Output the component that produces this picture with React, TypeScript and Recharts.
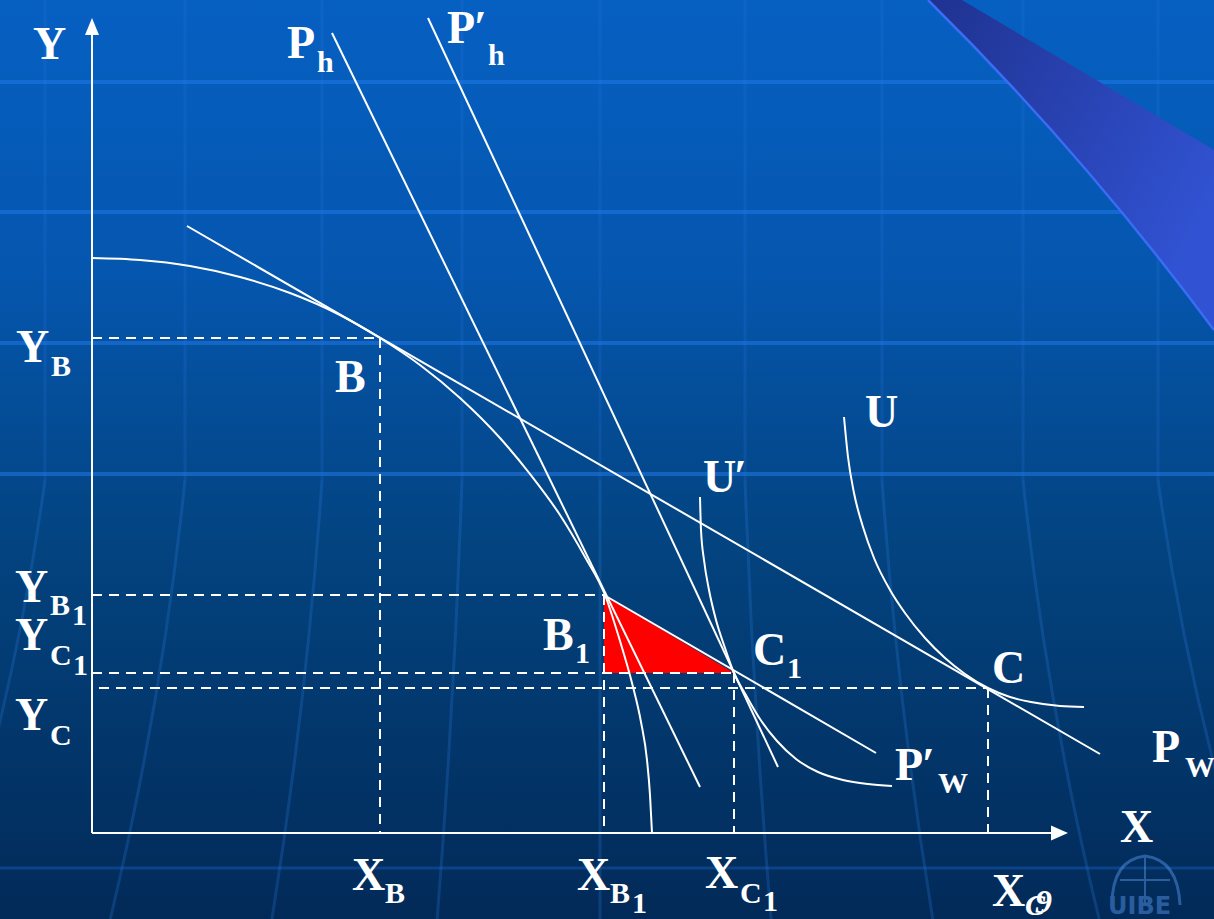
import React from 'react';
import { ComposedChart, Line, Area, Scatter, XAxis, YAxis, ReferenceDot } from 'recharts';

// Units: x = distance right of the origin, y = height above the X axis (schematic diagram units)
const ppfX = [0, 48, 98, 148, 198, 248, 288, 328, 368, 408, 438, 468, 493, 513, 528, 540, 549, 555, 558, 560];
const ppfY = [575, 573, 567, 556, 540, 518, 495, 468, 435, 395, 359, 318, 276, 238, 192, 150, 111, 73, 38, 0];

const uX = [752, 756, 762, 771, 782, 798, 813, 833, 853, 873, 896, 918, 939, 968, 992];
const uY = [416, 376, 340, 306, 275, 243, 220, 195, 175, 159, 145, 136, 131, 127, 126];

const u2X = [608, 609, 612, 617, 624, 633, 642, 655, 668, 685, 704, 726, 751, 776, 800];
const u2Y = [336, 303, 273, 243, 213, 185, 160, 136, 114, 92, 74, 61, 53, 49, 47];

// key points
const pB = { x: 288, y: 495 };
const pB1 = { x: 512, y: 238 };
const pC1 = { x: 642, y: 160 };
const pC = { x: 896, y: 145 };
const yCStart = 7;

// price lines (end points)
const pwLine = [{ x: 95, y: 607 }, { x: 1008, y: 79 }];
const pw2Line = [{ x: 512, y: 238 }, { x: 784, y: 80 }];
const phLine = [{ x: 240, y: 800 }, { x: 608, y: 46 }];
const ph2Line = [{ x: 336, y: 815 }, { x: 686, y: 66 }];

// axes
const xAxisEnd = 976;
const yAxisEnd = 815;

const zip = (xs: number[], ys: number[]) => xs.map((x, i) => ({ x, y: ys[i] }));
const ppf = zip(ppfX, ppfY);
const uCurve = zip(uX, uY);
const u2Curve = zip(u2X, u2Y);

const dashed = [
  [{ x: 0, y: pB.y }, { x: pB.x, y: pB.y }],
  [{ x: pB.x, y: pB.y }, { x: pB.x, y: 0 }],
  [{ x: 0, y: pB1.y }, { x: pB1.x, y: pB1.y }],
  [{ x: pB1.x, y: pB1.y }, { x: pB1.x, y: 0 }],
  [{ x: 0, y: pC1.y }, { x: pC1.x, y: pC1.y }],
  [{ x: pC1.x, y: pC1.y }, { x: pC1.x, y: 0 }],
  [{ x: yCStart, y: pC.y }, { x: pC.x, y: pC.y }],
  [{ x: pC.x, y: pC.y }, { x: pC.x, y: 0 }],
];

const triangle = [
  { x: pB1.x, y: [pC1.y, pB1.y] },
  { x: pC1.x, y: [pC1.y, pC1.y] },
];

type Part = [string, number, number, number, boolean?];
const M = 46;
const S = 30;
const labels: { x: number; y: number; parts: Part[] }[] = [
  { x: -59, y: 774, parts: [['Y', 0, 0, M]] },
  { x: 1028, y: -9, parts: [['X', 0, 0, M]] },
  { x: -76, y: 471, parts: [['Y', 0, 0, M], ['B', 35, 14, S]] },
  { x: 243, y: 441, parts: [['B', 0, 0, M]] },
  { x: -77, y: 231, parts: [['Y', 0, 0, M], ['B', 35, 13, S], ['1', 57, 23, S]] },
  { x: -77, y: 183, parts: [['Y', 0, 0, M], ['C', 35, 15, S], ['1', 58, 25, S]] },
  { x: -77, y: 103, parts: [['Y', 0, 0, M], ['C', 35, 15, S]] },
  { x: 451, y: 183, parts: [['B', 0, 0, M], ['1', 32, 13, S]] },
  { x: 661, y: 168, parts: [['C', 0, 0, M], ['1', 34, 13, S]] },
  { x: 900, y: 150, parts: [['C', 0, 0, M]] },
  { x: 773, y: 406, parts: [['U', 0, 0, M]] },
  { x: 611, y: 341, parts: [['U', 0, 0, M], ['\u2032', 31, 0, M]] },
  { x: 195, y: 775, parts: [['P', 0, 0, M], ['h', 30, 14, S]] },
  { x: 355, y: 790, parts: [['P', 0, 0, M], ['\u2032', 27, 0, M], ['h', 41, 22, S]] },
  { x: 803, y: 53, parts: [['P', 0, 0, M], ['\u2032', 27, 0, M], ['W', 43, 13, S]] },
  { x: 1060, y: 71, parts: [['P', 0, 0, M], ['W', 33, 15, S]] },
  { x: 260, y: -57, parts: [['X', 0, 0, M], ['B', 33, 13, S]] },
  { x: 485, y: -57, parts: [['X', 0, 0, M], ['B', 33, 13, S], ['1', 55, 23, S]] },
  { x: 613, y: -55, parts: [['X', 0, 0, M], ['C', 35, 15, S], ['1', 58, 23, S]] },
  { x: 900, y: -73, parts: [['X', 0, 0, M], ['C', 33, 9, S, true], ['9', 43, 7, 34, true]] },
];

const FONT = "'Liberation Serif', 'Times New Roman', serif";

const LabelShape = (parts: Part[]) => (props: any) => {
  const { cx, cy } = props;
  return (
    <text fontFamily={FONT} fontWeight="bold" fill="#ffffff">
      {parts.map((p, i) => (
        <tspan key={i} x={cx + p[1]} y={cy + p[2]} fontSize={p[3]} fontStyle={p[4] ? 'italic' : 'normal'}>
          {p[0]}
        </tspan>
      ))}
    </text>
  );
};

const UpArrow = (props: any) => {
  const { cx, cy } = props;
  return <polygon points={`${cx},${cy} ${cx - 7},${cy + 17} ${cx + 7},${cy + 17}`} fill="#ffffff" />;
};
const RightArrow = (props: any) => {
  const { cx, cy } = props;
  return <polygon points={`${cx},${cy} ${cx - 17},${cy - 7.5} ${cx - 17},${cy + 7.5}`} fill="#ffffff" />;
};

const hLines = [82, 212, 343, 474];
const vTop = [45, 185, 322, 462, 600, 745, 882, 1023, 1158];

const Background = () => (
  <svg width={1214} height={919} style={{ position: 'absolute', left: 0, top: 0 }}>
    <defs>
      <linearGradient id="sw" x1="0" y1="0" x2="1" y2="0.6">
        <stop offset="0%" stopColor="#1f3290" />
        <stop offset="100%" stopColor="#3152d2" />
      </linearGradient>
    </defs>
    {vTop.map((x, i) => (
      <line key={'v' + i} x1={x} y1={0} x2={x} y2={480} stroke="#2a7ae0" strokeOpacity={0.2} strokeWidth={3} />
    ))}
    {vTop.map((x, i) => {
      const lean = (x - 600) * 0.18;
      return (
        <path key={'c' + i} d={`M${x},480 Q${x + lean * 0.3},700 ${x + lean},919`} stroke="#2a7ae0" strokeOpacity={0.25} strokeWidth={3} fill="none" />
      );
    })}
    {hLines.map((y, i) => (
      <line key={'h' + i} x1={0} y1={y} x2={1214} y2={y} stroke="#1f78e8" strokeOpacity={0.55} strokeWidth={4} />
    ))}
    <line x1={0} y1={868} x2={1214} y2={868} stroke="#1f78e8" strokeOpacity={0.3} strokeWidth={3} />
    <path d="M928,0 Q1080,150 1214,330 L1214,150 L962,0 Z" fill="url(#sw)" />
    <path d="M928,0 Q1080,150 1214,330" stroke="#3a6cf5" strokeWidth={2.5} fill="none" />
    <g opacity={0.45}>
      <path d="M1112,905 Q1112,860 1145,856 Q1178,860 1180,905" stroke="#5a9af0" strokeWidth={3} fill="none" />
      <path d="M1120,880 L1170,880 M1145,856 L1145,905" stroke="#5a9af0" strokeWidth={2} fill="none" />
      <text x={1108} y={914} fontFamily="'DejaVu Sans', sans-serif" fontWeight="bold" fontSize={24} fill="#5a9af0">UIBE</text>
    </g>
  </svg>
);

export default function App() {
  const white = '#ffffff';
  return (
    <div
      style={{
        position: 'fixed',
        left: 0,
        top: 0,
        width: 1214,
        height: 919,
        overflow: 'hidden',
        background: 'linear-gradient(180deg, #0660C2 0%, #0556AE 30%, #03437F 60%, #022A58 100%)',
      }}
    >
      <Background />
      <div style={{ position: 'absolute', left: 0, top: 0 }}>
        <ComposedChart width={1214} height={919} margin={{ top: 0, right: 0, bottom: 0, left: 0 }}>
          <XAxis dataKey="x" type="number" domain={[-92, 1122]} allowDataOverflow hide />
          <YAxis dataKey="y" type="number" domain={[-86, 833]} allowDataOverflow hide />
          <Area
            data={triangle}
            dataKey="y"
            type="linear"
            fill="#ff0000"
            fillOpacity={1}
            stroke="none"
            isAnimationActive={false}
            dot={false}
            activeDot={false}
          />
          {dashed.map((seg, i) => (
            <Line
              key={'d' + i}
              data={seg}
              dataKey="y"
              type="linear"
              stroke={white}
              strokeWidth={2}
              strokeDasharray="10 7"
              dot={false}
              activeDot={false}
              isAnimationActive={false}
            />
          ))}
          <Line data={[{ x: 0, y: 0 }, { x: 0, y: yAxisEnd - 4 }]} dataKey="y" type="linear" stroke={white} strokeWidth={2} dot={false} activeDot={false} isAnimationActive={false} />
          <Line data={[{ x: 0, y: 0 }, { x: xAxisEnd - 4, y: 0 }]} dataKey="y" type="linear" stroke={white} strokeWidth={2} dot={false} activeDot={false} isAnimationActive={false} />
          <Line data={ppf} dataKey="y" type="monotone" stroke={white} strokeWidth={2} dot={false} activeDot={false} isAnimationActive={false} />
          <Line data={uCurve} dataKey="y" type="monotone" stroke={white} strokeWidth={2} dot={false} activeDot={false} isAnimationActive={false} />
          <Line data={u2Curve} dataKey="y" type="monotone" stroke={white} strokeWidth={2} dot={false} activeDot={false} isAnimationActive={false} />
          <Line data={pwLine} dataKey="y" type="linear" stroke={white} strokeWidth={2} dot={false} activeDot={false} isAnimationActive={false} />
          <Line data={pw2Line} dataKey="y" type="linear" stroke={white} strokeWidth={2} dot={false} activeDot={false} isAnimationActive={false} />
          <Line data={phLine} dataKey="y" type="linear" stroke={white} strokeWidth={2} dot={false} activeDot={false} isAnimationActive={false} />
          <Line data={ph2Line} dataKey="y" type="linear" stroke={white} strokeWidth={2} dot={false} activeDot={false} isAnimationActive={false} />
          <Scatter data={[{ x: 0, y: yAxisEnd }]} shape={UpArrow} isAnimationActive={false} />
          <Scatter data={[{ x: xAxisEnd, y: 0 }]} shape={RightArrow} isAnimationActive={false} />
          {labels.map((l, i) => (
            <ReferenceDot key={'l' + i} x={l.x} y={l.y} r={0} ifOverflow="visible" shape={LabelShape(l.parts)} />
          ))}
        </ComposedChart>
      </div>
    </div>
  );
}
